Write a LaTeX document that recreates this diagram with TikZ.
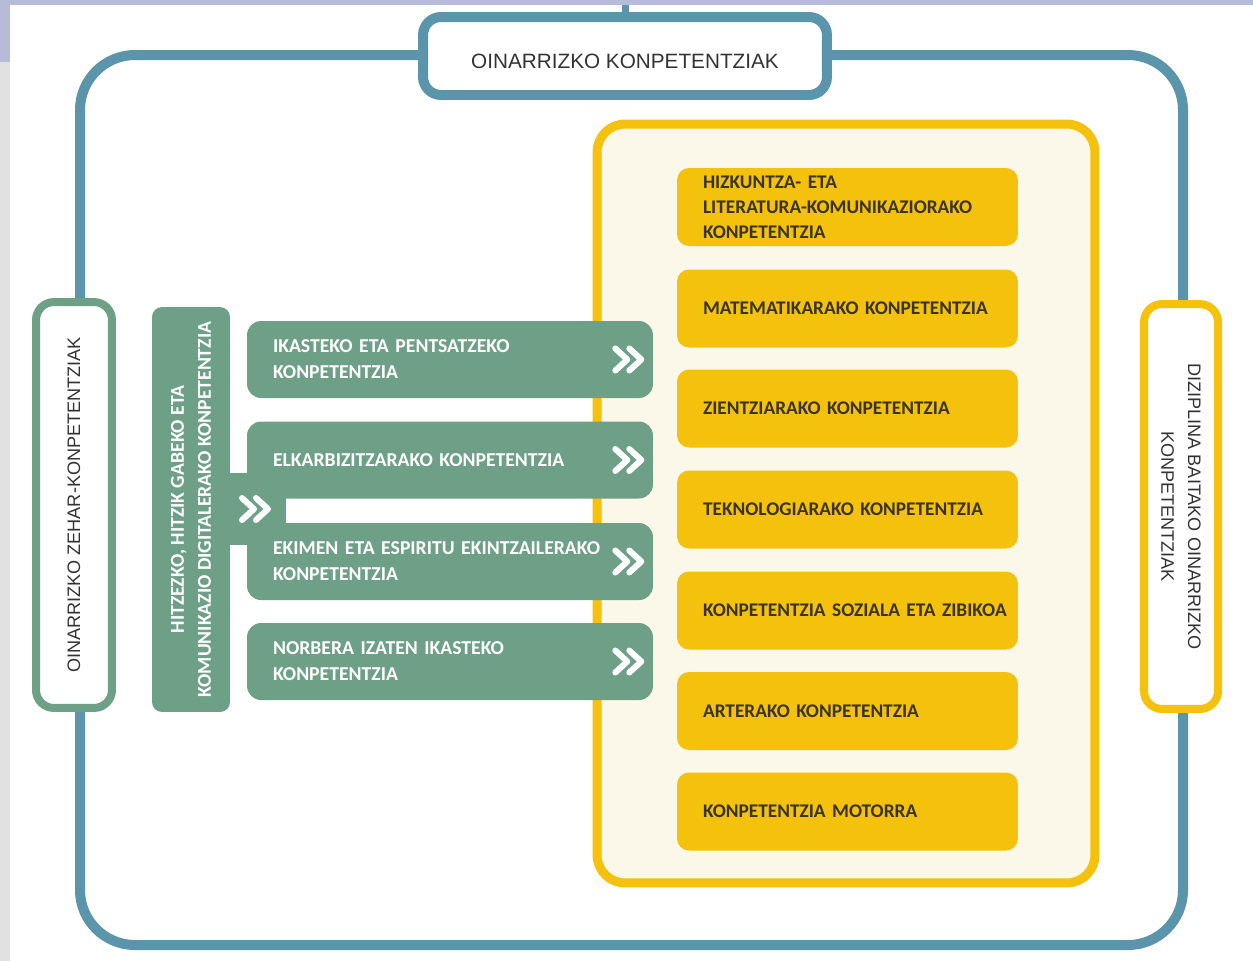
\documentclass[tikz,border=0pt]{standalone}
\usepackage{fontspec}
\setmainfont{Carlito}
\newfontfamily\arialfont{Liberation Sans}
\usepackage{tikz}
\definecolor{frameblue}{HTML}{5B95AC}
\definecolor{sage}{HTML}{6E9F87}
\definecolor{gold}{HTML}{F4C20D}
\definecolor{cream}{HTML}{FBF7E9}
\definecolor{lavender}{HTML}{B7BBDA}
\definecolor{greyband}{HTML}{E1E1E1}
\definecolor{textgrey}{HTML}{333333}
\definecolor{ytext}{HTML}{3B3424}
\tikzset{
	frameline/.style={draw=frameblue, line width=0.2cm},
	titlebox/.style={draw=frameblue, line width=0.2cm, fill=white, rounded corners=0.36cm, minimum width=8.08cm, minimum height=1.56cm, text height=0.5cm, text depth=0cm, font=\arialfont\fontsize{11.8}{14}\selectfont, text=textgrey},
	greenside/.style={draw=sage, line width=0.16cm, fill=white, rounded corners=0.36cm, minimum width=8.12cm, minimum height=1.52cm, rotate=90, font=\arialfont\fontsize{10.3}{15.3}\selectfont, text=textgrey},
	yellowside/.style={draw=gold, line width=0.16cm, fill=white, rounded corners=0.36cm, minimum width=8.1cm, minimum height=1.48cm, rotate=-90, align=center, font=\arialfont\fontsize{10.3}{15.3}\selectfont, text=textgrey},
	yellowpanel/.style={draw=gold, line width=0.18cm, fill=cream, rounded corners=0.56cm, minimum width=9.96cm, minimum height=15.18cm},
	ybox/.style={fill=gold, rounded corners=0.24cm, minimum width=6.82cm, minimum height=1.56cm, text width=6.62cm, inner xsep=0.1cm, inner ysep=0.1cm, align=left, execute at begin node={\leftskip=0.42cm}, font=\bfseries\fontsize{11}{14.2}\selectfont, text=ytext},
	gbox/.style={fill=sage, rounded corners=0.28cm, minimum width=8.12cm, minimum height=1.54cm, text width=7.08cm, inner xsep=0.52cm, align=left, font=\bfseries\fontsize{11.2}{14.7}\selectfont, text=white},
	gbar/.style={fill=sage, rounded corners=0.2cm, minimum width=8.1cm, minimum height=1.56cm, rotate=90, align=center, font=\bfseries\fontsize{11.2}{15.3}\selectfont, text=white},
	chev/.pic={\draw[white, line width=0.12cm, line cap=round, line join=round] (-15,-11) -- (-3,0) -- (-15,11) (-1,-11) -- (11,0) -- (-1,11);}
}

\begin{document}
\begin{tikzpicture}[x=0.02cm, y=-0.02cm]

	\useasboundingbox (0,0) rectangle (1253,961);
	\fill[white] (0,0) rectangle (1253,961);
	\fill[lavender] (0,0) rectangle (1253,5);
	\fill[lavender] (0,0) rectangle (10,62);
	\fill[greyband] (0,62) rectangle (10,961);

	\draw[frameline, rounded corners=1.1cm] (80,55) rectangle (1183,945);

	\node[titlebox] (top) at (625,56) {OINARRIZKO KONPETENTZIAK};
	\coordinate (edge) at (625,5);
	\draw[frameline, line width=0.14cm] (top.north) -- (edge);

	\node[greenside] (zehar) at (74,505) {OINARRIZKO ZEHAR-KONPETENTZIAK};
	\node[yellowside] (diziplina) at (1181,506.5) {DIZIPLINA BAITAKO OINARRIZKO\\KONPETENTZIAK};

	\node[yellowpanel] (panel) at (846,503.5) {};

	\node[ybox] (hizkuntza) at (847.5,207) {HIZKUNTZA- ETA\\LITERATURA-KOMUNIKAZIORAKO\\KONPETENTZIA};
	\node[ybox] (matematika) at (847.5,308.5) {MATEMATIKARAKO KONPETENTZIA};
	\node[ybox] (zientzia) at (847.5,408.5) {ZIENTZIARAKO KONPETENTZIA};
	\node[ybox] (teknologia) at (847.5,509.5) {TEKNOLOGIARAKO KONPETENTZIA};
	\node[ybox] (soziala) at (847.5,610.5) {KONPETENTZIA SOZIALA ETA ZIBIKOA};
	\node[ybox] (artea) at (847.5,711) {ARTERAKO KONPETENTZIA};
	\node[ybox] (motorra) at (847.5,811.5) {KONPETENTZIA MOTORRA};

	\node[gbar] (hitz) at (191,509.5) {HITZEZKO, HITZIK GABEKO ETA\\KOMUNIKAZIO DIGITALERAKO KONPETENTZIA};
	\node[fill=sage, minimum width=1.16cm, minimum height=1.44cm] (arm) at (257,509) {};

	\node[gbox] (ikasi) at (450,359.5) {IKASTEKO ETA PENTSATZEKO\\KONPETENTZIA};
	\node[gbox] (elkar) at (450,460) {ELKARBIZITZARAKO KONPETENTZIA};
	\node[gbox] (ekimen) at (450,561.5) {EKIMEN ETA ESPIRITU EKINTZAILERAKO\\KONPETENTZIA};
	\node[gbox] (norbera) at (450,661.5) {NORBERA IZATEN IKASTEKO\\KONPETENTZIA};

	\pic at (arm) {chev};
	\pic at ([xshift=-0.46cm]ikasi.east) {chev};
	\pic at ([xshift=-0.46cm]elkar.east) {chev};
	\pic at ([xshift=-0.46cm]ekimen.east) {chev};
	\pic at ([xshift=-0.46cm]norbera.east) {chev};
\end{tikzpicture}
\end{document}
